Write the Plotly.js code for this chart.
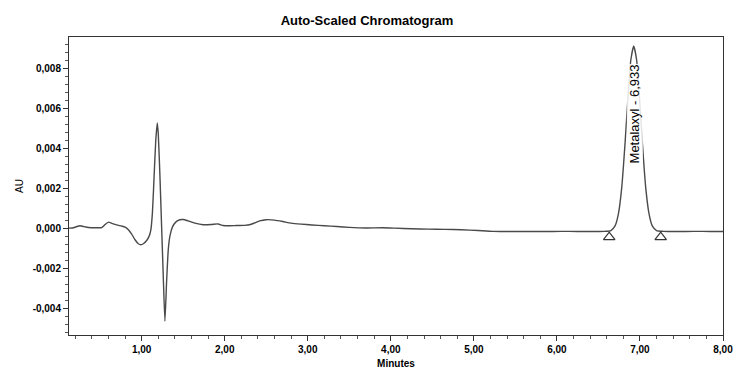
<!DOCTYPE html>
<html>
<head>
<meta charset="utf-8">
<script src="https://cdn.plot.ly/plotly-3.0.1.min.js"></script>
<style>html,body{margin:0;padding:0;background:#fff;}#chart{width:734px;height:372px;}</style>
</head>
<body>
<div id="chart"></div>
<script>
// Retention time (minutes)
const minutes = [0.125,0.18,0.22,0.26,0.30,0.36,0.45,0.52,0.56,0.60,0.64,0.70,0.76,0.80,0.84,0.88,0.92,0.96,0.99,1.02,1.06,1.09,1.11,1.13,1.15,1.17,1.188,1.20,1.22,1.24,1.26,1.28,1.30,1.32,1.34,1.37,1.41,1.46,1.50,1.56,1.64,1.74,1.84,1.92,1.98,2.06,2.14,2.24,2.30,2.36,2.42,2.50,2.60,2.70,2.80,2.92,3.05,3.20,3.35,3.50,3.70,3.90,4.05,4.25,4.45,4.65,4.85,5.05,5.23,5.45,5.65,5.85,6.05,6.25,6.45,6.58,6.65,6.70,6.74,6.78,6.82,6.86,6.89,6.925,6.96,6.99,7.03,7.07,7.11,7.15,7.20,7.28,7.45,7.65,7.85,8.00];
// Absorbance (AU)
const au = [0,0.00002,0.00008,0.00012,0.00008,0.00003,0.00002,0.00003,0.00018,0.00030,0.00024,0.00016,0.00010,0.00005,-0.00008,-0.00030,-0.00058,-0.00078,-0.00083,-0.00078,-0.00062,-0.00040,-0.00010,0.00080,0.00260,0.00440,0.00525,0.00470,0.00260,0.00010,-0.00240,-0.00465,-0.00270,-0.00110,-0.00040,0.00005,0.00030,0.00042,0.00043,0.00036,0.00025,0.00017,0.00018,0.00021,0.00013,0.00012,0.00013,0.00014,0.00017,0.00026,0.00036,0.00042,0.00040,0.00033,0.00025,0.00020,0.00016,0.00012,0.00008,0.00004,0.00001,0.00002,0.00000,-0.00003,-0.00005,-0.00006,-0.00008,-0.00012,-0.00016,-0.00017,-0.00016,-0.00017,-0.00016,-0.00017,-0.00017,-0.00016,-0.00012,0.00011,0.0007,0.0020,0.0042,0.0068,0.0084,0.0091,0.0084,0.0068,0.0042,0.0020,0.0007,0.0001,-0.00012,-0.00016,-0.00017,-0.00016,-0.00017,-0.00017];
// Peak integration markers (start / end)
const markerMinutes = [6.63, 7.25];
const markerAU = [-0.00045, -0.00045];
// Peak label
const peakName = "Metalaxyl";
const peakTime = 6.933;
const peakLabelAU = 0.0057;
const xTicks = [1,2,3,4,5,6,7,8];
const xTickLabels = ["1,00","2,00","3,00","4,00","5,00","6,00","7,00","8,00"];
const yTicks = [-0.004,-0.002,0,0.002,0.004,0.006,0.008];
const yTickLabels = ["-0,004","-0,002","0,000","0,002","0,004","0,006","0,008"];

const fontFam = "Liberation Sans, Arial, sans-serif";
const data = [
  {x: minutes, y: au, type: 'scatter', mode: 'lines',
   line: {color: '#4a4a4a', width: 1.4, shape: 'spline', smoothing: 0.5}, hoverinfo: 'skip'},
  {x: markerMinutes, y: markerAU, type: 'scatter', mode: 'markers',
   marker: {symbol: 'triangle-up-open', size: 10, color: '#333', line: {width: 1.2, color: '#333'}}}
];
const layout = {
  width: 734, height: 372,
  margin: {l: 69, r: 11, t: 37, b: 37},
  paper_bgcolor: '#fff', plot_bgcolor: '#fff',
  showlegend: false,
  font: {family: fontFam, color: '#000'},
  title: {text: 'Auto-Scaled Chromatogram', font: {family: fontFam, size: 13, weight: 'bold', color: '#000'},
          x: 0.5, xref: 'container', xanchor: 'center', y: 1 - 20/372, yanchor: 'middle'},
  xaxis: {
    range: [0.125, 8.0], tickmode: 'array', tickvals: xTicks, ticktext: xTickLabels,
    ticks: 'outside', ticklen: 5, tickcolor: '#333', tickwidth: 1,
    minor: {dtick: 0.2, tick0: 0, ticks: 'outside', ticklen: 3, tickcolor: '#555', showgrid: false},
    showline: true, linecolor: '#333', linewidth: 1, mirror: true,
    showgrid: false, zeroline: false,
    tickfont: {size: 10, color: '#000', weight: 'bold'},
    title: {text: 'Minutes', font: {size: 10, color: '#000', weight: 'bold'}, standoff: 5}
  },
  yaxis: {
    range: [-0.00534, 0.00955], tickmode: 'array', tickvals: yTicks, ticktext: yTickLabels,
    ticks: 'outside', ticklen: 5, tickcolor: '#333', tickwidth: 1,
    minor: {dtick: 0.0004, tick0: 0, ticks: 'outside', ticklen: 3, tickcolor: '#555', showgrid: false},
    showline: true, linecolor: '#333', linewidth: 1, mirror: true,
    showgrid: false, zeroline: false,
    tickfont: {size: 10, color: '#000', weight: 'bold'},
    title: {text: 'AU', font: {size: 10, color: '#000'}, standoff: 7}
  },
  annotations: [{
    x: peakTime, y: peakLabelAU, xref: 'x', yref: 'y',
    text: peakName + ' - ' + peakTime.toFixed(3).replace('.', ','),
    textangle: -90, showarrow: false,
    font: {family: fontFam, size: 13, color: '#000'},
    bgcolor: 'rgba(255,255,255,0.85)', borderpad: 0
  }]
};
Plotly.newPlot('chart', data, layout, {displayModeBar: false, staticPlot: true});
</script>
</body>
</html>
